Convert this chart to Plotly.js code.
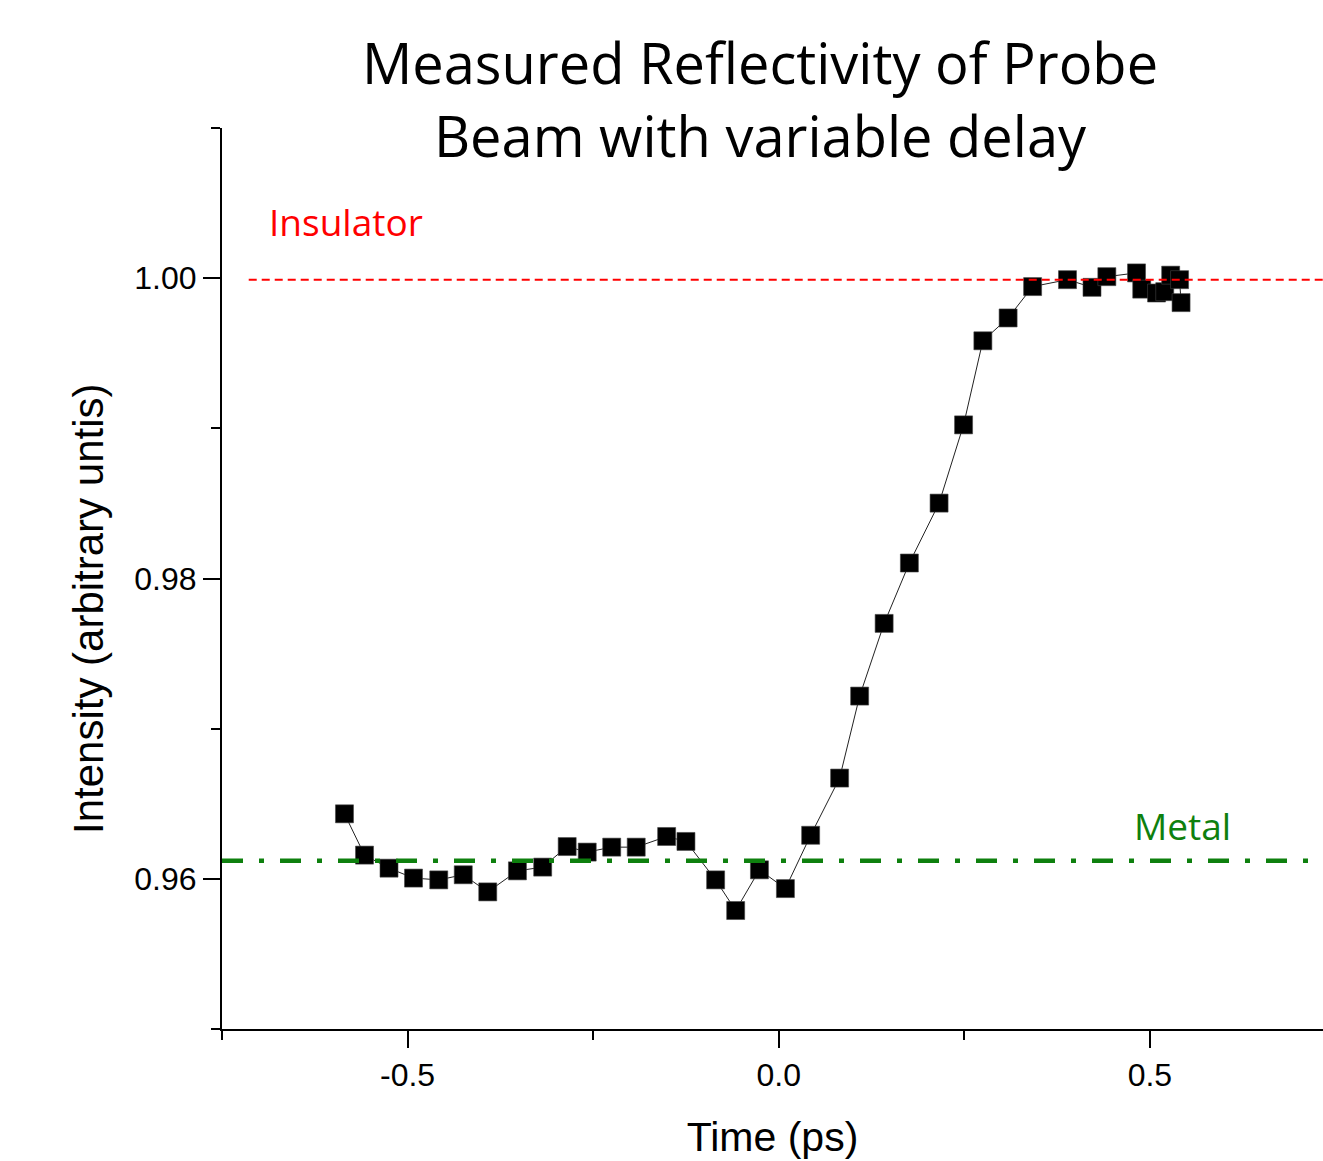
<!DOCTYPE html>
<html>
<head>
<meta charset="utf-8">
<script src="https://cdn.plot.ly/plotly-3.0.1.min.js"></script>
<style>
html, body { margin: 0; padding: 0; background: #ffffff; }
#chart { width: 1323px; height: 1161px; }
</style>
</head>
<body>
<div id="chart"></div>
<script>
// ---- data ----
const timePs = [
  -0.585, -0.558, -0.525, -0.492, -0.458, -0.425, -0.392, -0.352, -0.318, -0.285,
  -0.258, -0.225, -0.192, -0.151, -0.125, -0.085, -0.058, -0.026, 0.009, 0.043,
  0.082, 0.109, 0.142, 0.176, 0.216, 0.249, 0.275, 0.309, 0.342, 0.389,
  0.422, 0.442, 0.482, 0.489, 0.509, 0.520, 0.528, 0.540, 0.542
];
const intensity = [
  0.96433, 0.96158, 0.96071, 0.96005, 0.95993, 0.96027, 0.95913, 0.96053, 0.96078, 0.96215,
  0.96178, 0.96211, 0.96211, 0.96282, 0.96249, 0.95993, 0.95789, 0.96060, 0.95935, 0.96290,
  0.96671, 0.97217, 0.97701, 0.98103, 0.98502, 0.99023, 0.99583, 0.99735, 0.99944, 0.99990,
  0.99939, 1.00010, 1.00035, 0.99927, 0.99901, 0.99910, 1.00020, 0.99990, 0.99837
];
const insulatorLevel = 0.9999;
const insulatorStart = -0.714;
const metalLevel = 0.9612;
const metalStart = -0.75;

const xTickVals = [-0.5, 0.0, 0.5];
const xTickText = ['-0.5', '0.0', '0.5'];
const xMinorVals = [-0.75, -0.25, 0.25, 0.75];
const yTickVals = [0.96, 0.98, 1.00];
const yTickText = ['0.96', '0.98', '1.00'];
const yMinorVals = [0.95, 0.97, 0.99, 1.01];

const xRange = [-0.75, 0.7332];
const yRange = [0.95, 1.01];

const titleText = 'Measured Reflectivity of Probe<br>Beam with variable delay';
const xTitle = 'Time (ps)';
const yTitle = 'Intensity (arbitrary untis)';
const insulatorLabel = 'Insulator';
const metalLabel = 'Metal';

// ---- styling ----
const axisFont = 'Liberation Sans, Arial, sans-serif';
const labelFont = 'Open Sans, Noto Sans, sans-serif';
const green = '#0e800e';
const red = '#ff0000';

const data = [{
  type: 'scatter',
  mode: 'lines+markers',
  x: timePs,
  y: intensity,
  line: { color: '#222222', width: 1 },
  marker: { symbol: 'square', size: 18, color: '#000000', line: { color: '#444444', width: 0.6 } },
  showlegend: false,
  hoverinfo: 'x+y'
}];

const layout = {
  width: 1323,
  height: 1161,
  margin: { l: 222, r: 0, t: 128, b: 132 },
  paper_bgcolor: '#ffffff',
  plot_bgcolor: '#ffffff',
  showlegend: false,
  title: {
    text: titleText,
    font: { family: labelFont, size: 56, color: '#000000' },
    x: 760 / 1323,
    xanchor: 'center',
    xref: 'container',
    y: 1 - 84 / 1161,
    yref: 'container',
    yanchor: 'top'
  },
  xaxis: {
    range: xRange,
    showgrid: false,
    zeroline: false,
    showline: true,
    linecolor: '#000000',
    linewidth: 2,
    ticks: 'outside',
    ticklen: 17,
    tickwidth: 2,
    tickcolor: '#000000',
    tickmode: 'array',
    tickvals: xTickVals,
    ticktext: xTickText,
    minor: { tickmode: 'array', tickvals: xMinorVals, ticks: 'outside', ticklen: 9, tickwidth: 2, tickcolor: '#000000', showgrid: false },
    tickfont: { family: axisFont, size: 32, color: '#000000' },
    title: { text: '\u00a0\u00a0' + xTitle, font: { family: axisFont, size: 41, color: '#000000' }, standoff: 30 },
    automargin: false
  },
  yaxis: {
    range: yRange,
    showgrid: false,
    zeroline: false,
    showline: true,
    linecolor: '#000000',
    linewidth: 2,
    ticks: 'outside',
    ticklen: 17,
    tickwidth: 2,
    tickcolor: '#000000',
    tickmode: 'array',
    tickvals: yTickVals,
    ticktext: yTickText,
    minor: { tickmode: 'array', tickvals: yMinorVals, ticks: 'outside', ticklen: 9, tickwidth: 2, tickcolor: '#000000', showgrid: false },
    tickfont: { family: axisFont, size: 32, color: '#000000' },
    automargin: false
  },
  shapes: [
    {
      type: 'line', xref: 'x', yref: 'y', layer: 'above',
      x0: insulatorStart, x1: xRange[1], y0: insulatorLevel, y1: insulatorLevel,
      line: { color: red, width: 2, dash: '8px,5px' }
    },
    {
      type: 'line', xref: 'x', yref: 'y', layer: 'above',
      x0: metalStart, x1: xRange[1], y0: metalLevel, y1: metalLevel,
      line: { color: green, width: 4.5, dash: '21px,16px,5px,16px' }
    }
  ],
  annotations: [
    {
      text: yTitle, xref: 'paper', yref: 'paper', x: (88 - 222) / 1101, y: (1029 - 609) / 901,
      xanchor: 'center', yanchor: 'middle', textangle: -90, showarrow: false,
      font: { family: axisFont, size: 42, color: '#000000' }
    },
    {
      text: insulatorLabel, xref: 'x', yref: 'y', x: -0.689, y: 1.0038,
      xanchor: 'left', yanchor: 'middle', showarrow: false,
      font: { family: labelFont, size: 37, color: red }
    },
    {
      text: metalLabel, xref: 'x', yref: 'y', x: 0.476, y: 0.96353,
      xanchor: 'left', yanchor: 'middle', showarrow: false,
      font: { family: labelFont, size: 37, color: green }
    }
  ]
};

Plotly.newPlot('chart', data, layout, { displayModeBar: false, staticPlot: true });
</script>
</body>
</html>
